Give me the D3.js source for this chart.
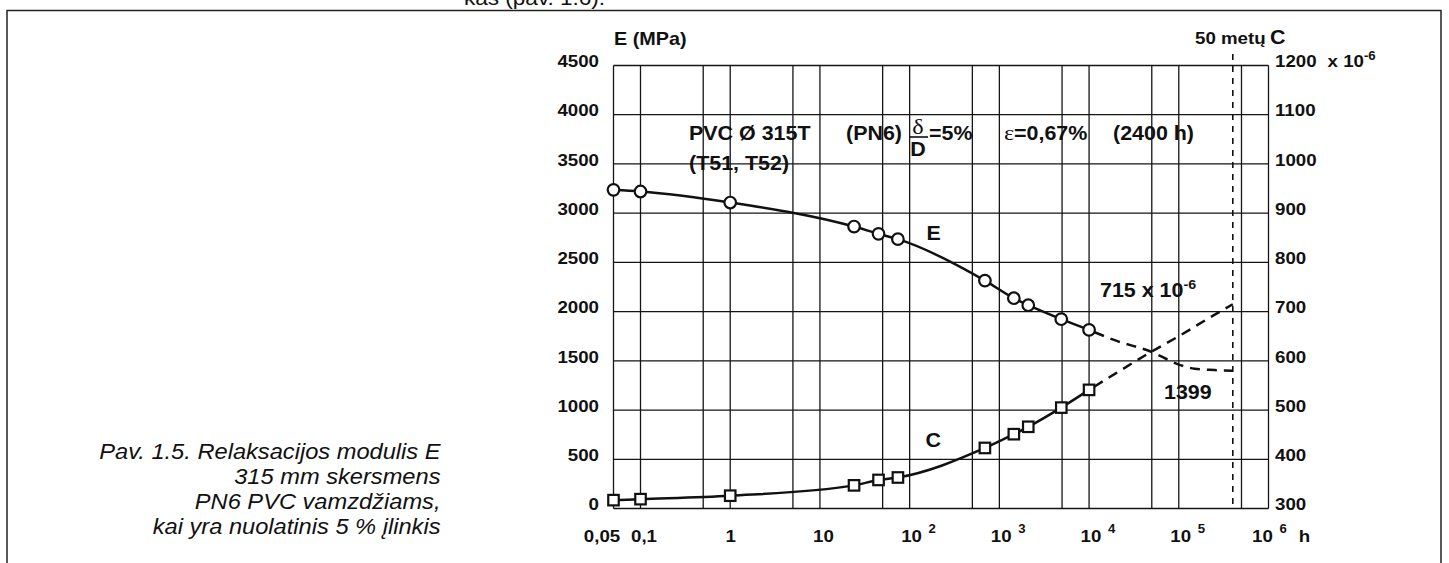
<!DOCTYPE html>
<html>
<head>
<meta charset="utf-8">
<script src="https://cdn.jsdelivr.net/npm/d3@7"></script>
<style>
  body { margin: 0; background: #fff; }
  svg text { font-family: "Liberation Sans", Arial, Helvetica, sans-serif; fill: #111; }
  .ax { font-size: 17px; font-weight: bold; }
  .ann { font-size: 19.5px; font-weight: bold; }
  .cap { font-size: 21.5px; font-style: italic; }
  .serif { font-family: "Liberation Serif", "DejaVu Serif", serif !important; font-weight: normal; }
</style>
</head>
<body>
<div id="chart"></div>
<script>
// measured points: time (h), relaxation modulus E (MPa), creep factor C (x10^-6)
const hours = [0.05, 0.1, 1, 24, 45, 74, 690, 1450, 2100, 4900, 10000];
const modulusE = [3237, 3220, 3108, 2864, 2790, 2736, 2315, 2136, 2065, 1923, 1814];
const creepC = [317, 319, 326, 347, 358, 363, 423, 451, 466, 505, 541];

// extrapolated (dashed) parts up to 50 years
const extHoursE = [10000, 20000, 50000, 100000, 150000, 250000, 400000];
const extE = [1814, 1705, 1590, 1462, 1420, 1406, 1399];
const extHoursC = [10000, 20000, 50000, 100000, 200000, 400000];
const extC = [541, 575, 619, 650, 683, 715];
const fiftyYears = 400000;

const gridHours = [0.05, 0.1, 0.5, 1, 5, 10, 50, 100, 500, 1000, 5000, 10000, 50000, 100000, 500000, 1000000];
const xTicks = [0.05, 0.1, 1, 10, 100, 1000, 10000, 100000, 1000000];
const xTickLabels = ["0,05", "0,1", "1", "10", "10", "10", "10", "10", "10"];
const xTickSup = ["", "", "", "", "2", "3", "4", "5", "6"];
const eTicks = [0, 500, 1000, 1500, 2000, 2500, 3000, 3500, 4000, 4500];
const cTicks = [300, 400, 500, 600, 700, 800, 900, 1000, 1100, 1200];

const captionLines = [
  "Pav. 1.5. Relaksacijos modulis E",
  "315 mm skersmens",
  "PN6 PVC vamzdžiams,",
  "kai yra nuolatinis 5 % įlinkis"
];

const W = 1449, H = 563;
const plot = { left: 613.5, right: 1268.5, top: 65.5, bottom: 508.5 };
const stretch = 1.1;

const svg = d3.select("#chart").append("svg")
  .attr("width", W)
  .attr("height", H);

const x = d3.scaleLog().domain([0.05, 1e6]).range([plot.left, plot.right]);
const yE = d3.scaleLinear().domain([0, 4500]).range([plot.bottom, plot.top]);
const yC = d3.scaleLinear().domain([300, 1200]).range([plot.bottom, plot.top]);

// page frame
svg.append("path")
  .attr("d", `M7,${H} V10.5 H1441 V${H}`)
  .attr("fill", "none")
  .attr("stroke", "#222")
  .attr("stroke-width", 1.5);

// text above the frame (cut by the page edge, as in the scan)
svg.append("text")
  .attr("x", 464)
  .attr("y", 4.5)
  .style("font-size", "20.5px")
  .text("kas (pav. 1.6).");

// grid
const grid = svg.append("g").attr("stroke", "#151515").attr("stroke-width", 1.3);
grid.selectAll(".h")
  .data(eTicks)
  .enter().append("line")
  .attr("x1", plot.left).attr("x2", plot.right)
  .attr("y1", d => yE(d)).attr("y2", d => yE(d));
grid.selectAll(".v")
  .data(gridHours)
  .enter().append("line")
  .attr("x1", d => x(d)).attr("x2", d => x(d))
  .attr("y1", plot.top).attr("y2", plot.bottom);

// 50 years line
svg.append("line")
  .attr("x1", x(fiftyYears)).attr("x2", x(fiftyYears))
  .attr("y1", 54).attr("y2", plot.bottom)
  .attr("stroke", "#111")
  .attr("stroke-width", 1.6)
  .attr("stroke-dasharray", "6,6");

// curves
const lineE = d3.line().x(d => x(d[0])).y(d => yE(d[1])).curve(d3.curveMonotoneX);
const lineC = d3.line().x(d => x(d[0])).y(d => yC(d[1])).curve(d3.curveMonotoneX);

const ptsE = hours.map((h, i) => [h, modulusE[i]]);
const ptsC = hours.map((h, i) => [h, creepC[i]]);

svg.append("path").datum(ptsE)
  .attr("d", lineE).attr("fill", "none").attr("stroke", "#111").attr("stroke-width", 2.5);
svg.append("path").datum(ptsC)
  .attr("d", lineC).attr("fill", "none").attr("stroke", "#111").attr("stroke-width", 2.5);

svg.append("path").datum(extHoursE.map((h, i) => [h, extE[i]]))
  .attr("d", lineE).attr("fill", "none").attr("stroke", "#111")
  .attr("stroke-width", 2.5).attr("stroke-dasharray", "10,7").attr("stroke-dashoffset", -6);
svg.append("path").datum(extHoursC.map((h, i) => [h, extC[i]]))
  .attr("d", lineC).attr("fill", "none").attr("stroke", "#111")
  .attr("stroke-width", 2.5).attr("stroke-dasharray", "10,7").attr("stroke-dashoffset", -6);

// markers
svg.selectAll(".dotE")
  .data(ptsE)
  .enter().append("circle")
  .attr("cx", d => x(d[0]))
  .attr("cy", d => yE(d[1]))
  .attr("r", 5.8)
  .attr("fill", "#fff")
  .attr("stroke", "#111")
  .attr("stroke-width", 2.2);

const sq = 10.5;
svg.selectAll(".dotC")
  .data(ptsC)
  .enter().append("rect")
  .attr("x", d => x(d[0]) - sq / 2)
  .attr("y", d => yC(d[1]) - sq / 2)
  .attr("width", sq)
  .attr("height", sq)
  .attr("fill", "#fff")
  .attr("stroke", "#111")
  .attr("stroke-width", 2.2);

// axes
const axL = svg.append("g")
  .attr("transform", `translate(${plot.left},0)`)
  .call(d3.axisLeft(yE).tickValues(eTicks).tickSize(0).tickPadding(14.5).tickFormat(d3.format("d")));
const axR = svg.append("g")
  .attr("transform", `translate(${plot.right},0)`)
  .call(d3.axisRight(yC).tickValues(cTicks).tickSize(0).tickPadding(6.5).tickFormat(d3.format("d")));
const axB = svg.append("g")
  .attr("transform", `translate(0,${plot.bottom})`)
  .call(d3.axisBottom(x).tickValues(xTicks).tickSize(0).tickPadding(21).tickFormat(() => ""));

[axL, axR, axB].forEach(a => {
  a.select(".domain").remove();
  a.attr("font-size", null).attr("font-family", null);
  a.selectAll("text").attr("class", "ax").attr("fill", null);
});
axL.selectAll("text").attr("dy", "0.07em");
axR.selectAll("text").attr("dy", "0.07em");

// right axis unit on the top label
axR.selectAll(".tick text").filter(d => d === 1200).each(function() {
  const t = d3.select(this);
  t.append("tspan").attr("dx", 10).text("x 10");
  t.append("tspan").attr("dy", -7).style("font-size", "12px").text("-6");
});

// bottom labels with powers of ten
axB.selectAll(".tick text").each(function(d, i) {
  const t = d3.select(this);
  t.text(null);
  t.append("tspan").text(xTickLabels[i]);
  if (i === 0) t.attr("x", -12);
  if (i === 1) t.attr("x", 3);
  if (i === 3) t.attr("x", 3);
  if (xTickSup[i]) {
    t.attr("text-anchor", "start").attr("x", i === xTicks.length - 1 ? -17 : -9);
    t.append("tspan").attr("dx", 6).attr("dy", -8.5).style("font-size", "12px").text(xTickSup[i]);
    if (i === xTicks.length - 1) {
      t.append("tspan").attr("dx", 11).attr("dy", 8.5).text("h");
    }
  }
});

// axis titles
svg.append("text").attr("class", "ax").attr("x", 614).attr("y", 45)
  .style("font-size", "18px").text("E (MPa)");
svg.append("text").attr("class", "ax").attr("x", 1195).attr("y", 44.5).text("50 metų");
svg.append("text").attr("class", "ann").attr("x", 1270).attr("y", 44.5).text("C");

// annotations
const ann = (tx, ty, s) => svg.append("text").attr("class", "ann").attr("x", tx).attr("y", ty).text(s);
ann(689, 140, "PVC Ø 315T");
ann(689, 170.5, "(T51, T52)");
ann(846, 140.5, "(PN6)");
svg.append("text").attr("class", "ann serif").attr("x", 918).attr("y", 134)
  .attr("text-anchor", "middle").style("font-size", "22px").text("δ");
svg.append("line").attr("x1", 909).attr("x2", 928).attr("y1", 137).attr("y2", 137)
  .attr("stroke", "#111").attr("stroke-width", 1.6);
svg.append("text").attr("class", "ann").attr("x", 918).attr("y", 156.5)
  .attr("text-anchor", "middle").text("D");
ann(929, 140.5, "=5%");
svg.append("text").attr("class", "ann serif").attr("x", 1004).attr("y", 140.5)
  .style("font-size", "22px").text("ε");
ann(1014, 140.5, "=0,67%");
ann(1113, 140.5, "(2400 h)");

ann(926.5, 240, "E");
ann(925.5, 447, "C");
const t715 = ann(1100, 297.3, "715 x 10");
t715.append("tspan").attr("dy", -8).style("font-size", "13px").text("-6");
ann(1164, 399, "1399");

// caption
svg.selectAll(".cap")
  .data(captionLines)
  .enter().append("text")
  .attr("class", "cap")
  .attr("x", 440.5)
  .attr("y", (d, i) => 459 + i * 25)
  .attr("text-anchor", "end")
  .text(d => d);

// the original lettering is a little wider than Liberation Sans
svg.selectAll("text").each(function() {
  const el = d3.select(this);
  const x0 = +el.attr("x") || 0;
  el.attr("transform", `translate(${x0 * (1 - stretch)},0) scale(${stretch},1)`);
});
</script>
</body>
</html>
